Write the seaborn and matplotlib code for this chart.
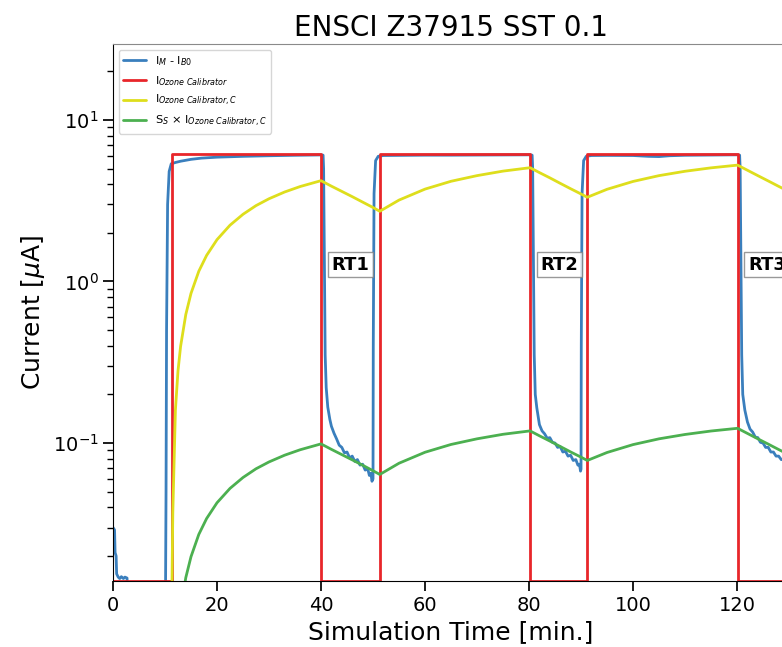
import numpy as np
import pandas as pd
import matplotlib
matplotlib.use("Agg")
import matplotlib.pyplot as plt
from matplotlib.ticker import LogLocator, NullFormatter
import seaborn as sns

# ── 데이터 ─────────────────────────────────────────
# I_M - I_B0 (측정 전류)
blue_t = [0.0, 0.3, 0.4, 0.6, 0.7, 1.0, 1.3, 1.6, 2.0, 2.3, 2.7, 2.75, 10.1,
          10.2, 10.3, 10.5, 10.8, 11.2, 12.0, 13.0, 15.0, 17.0, 20.0, 25.0, 30.0, 35.0, 40.0,
          40.4, 40.5, 40.6, 40.7, 40.8, 41.0, 41.3, 41.7, 42.0, 42.5, 43.0, 43.5, 44.0, 44.5,
          45.0, 45.5, 46.0, 46.5, 47.0, 47.5, 48.0, 48.5, 49.0, 49.3, 49.6, 49.8, 50.0,
          50.05, 50.2, 50.5, 51.0, 52.0, 55.0, 60.0, 65.0, 70.0, 75.0, 80.2,
          80.6, 80.7, 80.8, 80.9, 81.0, 81.2, 81.5, 82.0, 82.5, 83.0, 83.5, 84.0, 84.5,
          85.0, 85.5, 86.0, 86.5, 87.0, 87.5, 88.0, 88.5, 89.0, 89.4, 89.7, 89.9, 90.0,
          90.05, 90.2, 90.5, 91.0, 92.0, 95.0, 100.0, 103.0, 105.0, 107.0, 110.0, 115.0, 120.1,
          120.5, 120.6, 120.7, 120.8, 120.9, 121.1, 121.5, 122.0, 122.5, 123.0, 123.5, 124.0,
          124.5, 125.0, 125.5, 126.0, 126.5, 127.0, 127.5, 128.0, 128.5, 129.0, 129.5, 130.0, 131.0]
blue_v = [0.030, 0.029, 0.021, 0.020, 0.0155, 0.0148, 0.0145, 0.0149, 0.0145, 0.0148, 0.0146, 0.012, 0.012,
          0.05, 0.5, 3.0, 4.8, 5.35, 5.45, 5.55, 5.7, 5.8, 5.88, 5.95, 6.0, 6.04, 6.07,
          6.05, 5.0, 2.0, 0.7, 0.35, 0.22, 0.167, 0.14, 0.127, 0.115, 0.106, 0.097, 0.094, 0.087,
          0.088, 0.081, 0.083, 0.077, 0.079, 0.073, 0.074, 0.068, 0.069, 0.063, 0.065, 0.058, 0.060,
          0.4, 3.5, 5.6, 5.95, 6.02, 6.03, 6.05, 6.05, 6.06, 6.07, 6.08,
          6.05, 5.0, 2.0, 0.7, 0.35, 0.2, 0.165, 0.13, 0.119, 0.114, 0.107, 0.108, 0.101,
          0.100, 0.094, 0.095, 0.088, 0.089, 0.083, 0.084, 0.078, 0.079, 0.073, 0.074, 0.067, 0.069,
          0.4, 3.5, 5.6, 5.95, 6.02, 6.03, 6.02, 5.95, 5.93, 6.0, 6.04, 6.06, 6.08,
          6.05, 5.0, 2.0, 0.7, 0.35, 0.2, 0.16, 0.135, 0.122, 0.117, 0.109, 0.108,
          0.101, 0.100, 0.094, 0.094, 0.088, 0.088, 0.083, 0.083, 0.079, 0.079, 0.075, 0.076, 0.072]

# I_Ozone Calibrator (계단 신호)
red_t = [0.0, 11.3, 11.3, 40.0, 40.0, 51.3, 51.3, 80.2, 80.2, 91.2, 91.2, 120.1, 120.1, 131.2]
red_v = [0.014, 0.014, 6.15, 6.15, 0.014, 0.014, 6.15, 6.15, 0.014, 0.014, 6.15, 6.15, 0.014, 0.014]

# I_Ozone Calibrator,C
yellow_t = [11.3, 11.5, 12.0, 12.5, 13.0, 14.0, 15.0, 16.5, 18.0, 20.0, 22.5, 25.0, 27.5, 30.0, 33.0, 36.0, 40.0,
            42.0, 44.0, 46.0, 48.0, 50.0, 51.3, 55.0, 60.0, 65.0, 70.0, 75.0, 80.2,
            82.0, 84.0, 86.0, 88.0, 90.0, 91.2, 95.0, 100.0, 105.0, 110.0, 115.0, 120.1,
            122.0, 124.0, 126.0, 128.0, 130.0, 131.2]
yellow_v = [0.010, 0.037, 0.160, 0.280, 0.397, 0.625, 0.844, 1.157, 1.450, 1.815, 2.230, 2.605, 2.948, 3.251, 3.579, 3.870, 4.206,
            3.89, 3.61, 3.35, 3.10, 2.87, 2.72, 3.19, 3.73, 4.17, 4.52, 4.82, 5.06,
            4.72, 4.38, 4.05, 3.75, 3.48, 3.32, 3.72, 4.16, 4.52, 4.81, 5.05, 5.25,
            4.88, 4.52, 4.19, 3.88, 3.60, 3.43]

# S_S x I_Ozone Calibrator,C
green_t = [13.0, 14.0, 15.0, 16.5, 18.0, 20.0, 22.5, 25.0, 27.5, 30.0, 33.0, 36.0, 40.0,
           42.0, 44.0, 46.0, 48.0, 50.0, 51.3, 55.0, 60.0, 65.0, 70.0, 75.0, 80.2,
           82.0, 84.0, 86.0, 88.0, 90.0, 91.2, 95.0, 100.0, 105.0, 110.0, 115.0, 120.1,
           122.0, 124.0, 126.0, 128.0, 130.0, 131.2]
green_v = [0.0093, 0.0147, 0.0198, 0.0272, 0.0341, 0.0427, 0.0524, 0.0612, 0.0693, 0.0764, 0.0841, 0.0909, 0.0988,
           0.0914, 0.0848, 0.0787, 0.0729, 0.0674, 0.0639, 0.0750, 0.0877, 0.0980, 0.1062, 0.1133, 0.1189,
           0.1109, 0.1029, 0.0952, 0.0881, 0.0818, 0.0780, 0.0874, 0.0978, 0.1062, 0.1130, 0.1187, 0.1234,
           0.1147, 0.1062, 0.0985, 0.0912, 0.0846, 0.0806]

rt_labels = ["RT1", "RT2", "RT3"]
rt_x = [42.0, 82.2, 122.1]
rt_y = 1.27

# ── 스타일 ────────────────────────────────────────────────
sns.set_style("ticks")
plt.rcParams['font.family'] = ['DejaVu Sans']
plt.rcParams['text.color'] = 'black'
plt.rcParams['axes.labelcolor'] = 'black'
plt.rcParams['xtick.color'] = 'black'
plt.rcParams['ytick.color'] = 'black'
plt.rcParams['axes.edgecolor'] = 'black'

fig = plt.figure(figsize=(7.82, 6.47), dpi=100)
ax = fig.add_axes([0.1445, 0.102, 0.8645, 0.830])

series = [
    (blue_t, blue_v, "#3a7fbd", r"I$_{M}$ - I$_{B0}$"),
    (red_t, red_v, "#e8262a", r"I$_{Ozone\ Calibrator}$"),
    (yellow_t, yellow_v, "#dede1c", r"I$_{Ozone\ Calibrator, C}$"),
    (green_t, green_v, "#4cb050", r"S$_{S}$ $\times$ I$_{Ozone\ Calibrator, C}$"),
]
for t, v, c, lab in series:
    df = pd.DataFrame({"t": t, "v": v})
    sns.lineplot(data=df, x="t", y="v", estimator=None, sort=False,
                 color=c, lw=2, label=lab, ax=ax)

ax.set_yscale("log")
ax.set_xlim(0, 130)
ax.set_ylim(0.014, 29.5)
ax.set_xticks([0, 20, 40, 60, 80, 100, 120])
ax.yaxis.set_minor_locator(LogLocator(base=10, subs=np.arange(2, 10)))
ax.yaxis.set_minor_formatter(NullFormatter())
ax.spines["top"].set_color("#8a8a8a")

for lab, x in zip(rt_labels, rt_x):
    ax.text(x, rt_y, lab, fontsize=13, fontweight="bold", ha="left", va="center",
            bbox=dict(boxstyle="square,pad=0.2", facecolor="white", edgecolor="grey", alpha=0.8))

ax.set_title("ENSCI Z37915 SST 0.1", fontsize=20)
ax.set_xlabel("Simulation Time [min.]", fontsize=18)
ax.set_ylabel(r"Current [$\mu$A]", fontsize=18)
ax.tick_params(axis="both", which="major", labelsize=14, length=7, width=1.25)
ax.tick_params(axis="y", which="minor", length=4.5, width=1)
ax.legend(loc="upper left", fontsize=8.2)

fig.savefig("out.png", dpi=100)
